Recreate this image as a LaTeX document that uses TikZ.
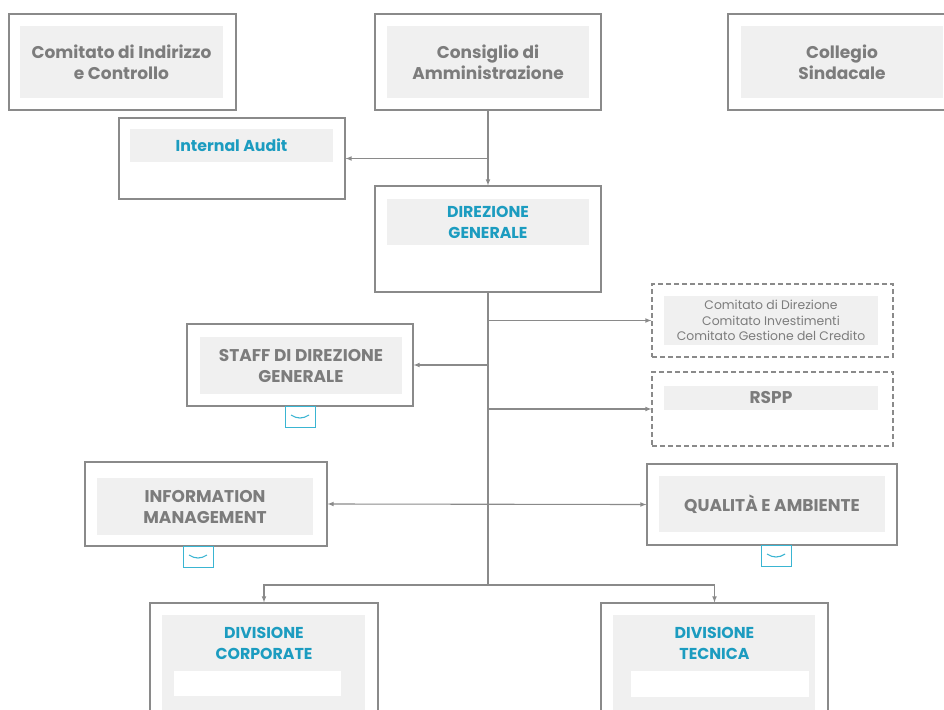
\documentclass[tikz,border=0pt]{standalone}
\usepackage{fontspec}
\setmainfont{Poppins}
\definecolor{linegray}{HTML}{8A8A8A}
\definecolor{boxgray}{HTML}{F0F0F0}
\definecolor{textgray}{HTML}{7C7C7C}
\definecolor{teal}{HTML}{1C9CC0}
\definecolor{chevcyan}{HTML}{3AB5D2}
\tikzset{
	unit/.style={draw=linegray, line width=1.1pt, fill=white, inner sep=0pt},
	dunit/.style={unit, dashed, dash pattern=on 5pt off 3pt},
	panel/.style={fill=boxgray, inner sep=0pt, align=center, text=textgray,
		font=\fontsize{17}{21}\selectfont\bfseries},
	bluetext/.style={text=teal, font=\fontsize{15.8}{21}\selectfont\bfseries},
	thin text/.style={font=\fontsize{12.4}{15.5}\selectfont},
	conn/.style={draw=linegray, line width=1.1pt, -latex},
	more/.style={draw=chevcyan, line width=1pt, fill=white, minimum width=30pt, minimum height=21pt, inner sep=0pt},
}
\begin{document}
\begin{tikzpicture}[x=1pt, y=-1pt]
			\useasboundingbox (0, 0) rectangle (944, 709);
			\clip (0, 0) rectangle (944, 709);
			
			\node[unit, minimum width=227, minimum height=96] (cic) at (122.5, 62) {};
			\node[panel, minimum width=203, minimum height=72] (cic-t) at (121.5, 62) {Comitato di Indirizzo\\e Controllo};
			
			\node[unit, minimum width=226, minimum height=96] (cda) at (488, 62) {};
			\node[panel, minimum width=202, minimum height=72] (cda-t) at (488, 62) {Consiglio di\\Amministrazione};
			
			\node[unit, minimum width=227, minimum height=96] (cs) at (841.5, 62) {};
			\node[panel, minimum width=202, minimum height=72] (cs-t) at (842, 62) {Collegio\\Sindacale};
			
			\node[unit, minimum width=226, minimum height=81] (ia) at (232, 158.5) {};
			\node[panel, bluetext, minimum width=203, minimum height=33] (ia-t) at (231.5, 145.5) {Internal Audit};
			
			\node[unit, minimum width=226, minimum height=106] (dg) at (488, 239) {};
			\node[panel, bluetext, minimum width=202, minimum height=46] (dg-t) at (488, 222) {DIREZIONE\\GENERALE};
			
			\node[dunit, minimum width=241, minimum height=73] (cdir) at (772.5, 320.5) {};
			\node[panel, thin text, minimum width=214, minimum height=49] (cdir-t) at (771, 320.5) {Comitato di Direzione\\Comitato Investimenti\\Comitato Gestione del Credito};
			
			\node[dunit, minimum width=241, minimum height=74] (rspp) at (772.5, 409) {};
			\node[panel, minimum width=214, minimum height=24] (rspp-t) at (771, 398) {RSPP};
			
			\node[unit, minimum width=226, minimum height=82] (staff) at (300, 365) {};
			\node[panel, minimum width=202, minimum height=57] (staff-t) at (301, 365.5) {STAFF DI DIREZIONE\\GENERALE};
			\node[more] (staff-more) at (300, 416.5) {};
			
			\node[unit, minimum width=242, minimum height=84] (im) at (206, 504) {};
			\node[panel, minimum width=216, minimum height=57] (im-t) at (205, 506.5) {INFORMATION\\MANAGEMENT};
			\node[more] (im-more) at (198, 556.5) {};
			
			\node[unit, minimum width=250, minimum height=81] (qa) at (772, 504.5) {};
			\node[panel, minimum width=226, minimum height=56] (qa-t) at (772, 504) {QUALITÀ E AMBIENTE};
			\node[more] (qa-more) at (776, 555.5) {};
			
			\node[unit, minimum width=228, minimum height=117] (dc) at (264, 661.5) {};
			\node[panel, minimum width=203, minimum height=97] (dc-bg) at (263.5, 663.5) {};
			\node[panel, bluetext] (dc-t) at (264, 643) {DIVISIONE\\CORPORATE};
			\node[fill=white, minimum width=167, minimum height=25] (dc-w) at (257.5, 683.5) {};
			
			\node[unit, minimum width=227, minimum height=117] (dt) at (714.5, 661.5) {};
			\node[panel, minimum width=202, minimum height=97] (dt-bg) at (714, 663.5) {};
			\node[panel, bluetext] (dt-t) at (714.5, 643) {DIVISIONE\\TECNICA};
			\node[fill=white, minimum width=178, minimum height=26] (dt-w) at (720, 684) {};
			
			\foreach \m in {staff-more, im-more, qa-more}
				\draw[chevcyan, line width=1.1pt] ([xshift=-9pt, yshift=1.5pt]\m.center) .. controls ([xshift=-3pt, yshift=-2.5pt]\m.center) and ([xshift=3pt, yshift=-2.5pt]\m.center) .. ([xshift=9pt, yshift=1.5pt]\m.center);
			
			\coordinate (split) at (488, 585);
			
			\draw[conn] (cda) -- (dg);
			\draw[conn] (cda.south |- ia.east) -- (ia.east);
			\draw[draw=linegray, line width=1.1pt] (dg.south) -- (split);
			\draw[conn] (dg.south |- cdir.west) -- (cdir.west);
			\draw[conn] (dg.south |- rspp.west) -- (rspp.west);
			\draw[conn] (dg.south |- staff.east) -- (staff.east);
			\draw[conn, latex-latex] (im.east) -- (qa.west);
			\draw[conn] (split) -| (dc.north);
			\draw[conn] (split) -| (dt.north);
		\end{tikzpicture}
\end{document}
